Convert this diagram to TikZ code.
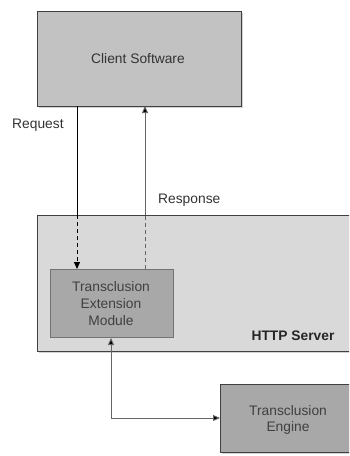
\documentclass[tikz,border=0pt]{standalone}
\usepackage{fontspec}
\setmainfont{Liberation Sans}
\usetikzlibrary{shadows,arrows.meta}
\begin{document}
\begin{tikzpicture}[x=1pt,y=-1pt,
  box/.style={draw=black!75,line width=1pt,drop shadow={shadow xshift=1.5pt,shadow yshift=-1.5pt,opacity=0.35}},
  inner/.style={draw=black!55,line width=0.8pt},
  lbl/.style={font=\fontsize{13.8}{16.7}\selectfont,text=black!80,inner sep=0pt},
  hd/.style={-{Triangle[length=7pt,width=6pt,fill=black]}},
  conn/.style={line width=0.9pt},
  gconn/.style={line width=0.9pt,black!60},
  dsh/.style={dash pattern=on 4pt off 3pt}]
\useasboundingbox (0,0) rectangle (349,456);
\clip (0,0) rectangle (349,456);
\path[box,fill=black!24] (37,11) rectangle (241,106);
\node[lbl,align=center] (client) at (138,59) {Client Software};
\coordinate (clientS) at (77,106);
\coordinate (clientS2) at (145,106);
\path[box,fill=black!15] (37,215) rectangle (370,351);
\node[lbl,font=\fontsize{13.8}{16.7}\selectfont\bfseries,text=black!85] (http) at (293,336) {HTTP Server};
\path[inner,fill=black!34] (50,269) rectangle (173,337);
\node[lbl,align=center,text=black!75] (tem) at (111,303.5) {Transclusion\\Extension\\Module};
\coordinate (temN1) at (77,269);
\coordinate (temN2) at (145,269);
\coordinate (temS) at (111,338);
\path[box,fill=black!34] (220,384) rectangle (370,452);
\node[lbl,align=center,text=black!75] (eng) at (288,420) {Transclusion\\Engine};
\coordinate (engW) at (220,418);
\coordinate (srvTop1) at (77,215);
\coordinate (srvTop2) at (145,215);
% request
\draw[conn] (clientS) -- (srvTop1);
\draw[conn,dsh,hd] (srvTop1) -- (temN1);
% response
\draw[gconn,dsh] (temN2) -- (srvTop2);
\draw[gconn,hd] (srvTop2) -- (clientS2);
% engine link
\draw[gconn,{Triangle[length=7pt,width=6pt,fill=black]}-{Triangle[length=7pt,width=6pt,fill=black]}] (temS) |- (engW);
\node[lbl,anchor=west] (req) at (12,125) {Request};
\node[lbl,anchor=west] (resp) at (158,200) {Response};
\end{tikzpicture}
\end{document}
